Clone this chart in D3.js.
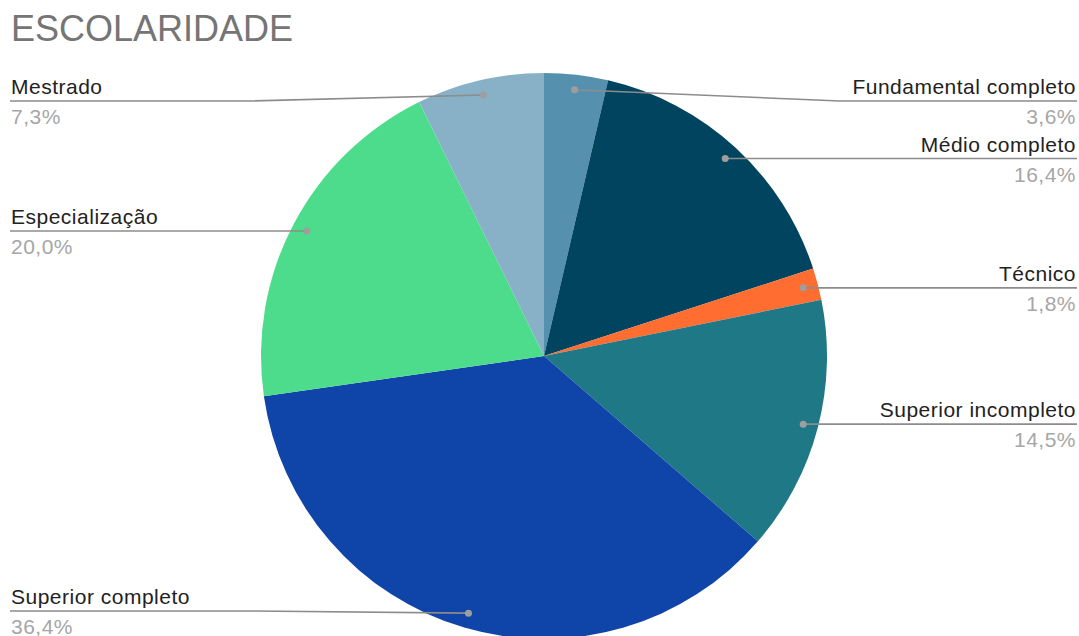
<!doctype html>
<html lang="pt">
<head>
    <meta charset="UTF-8">
    <title>Escolaridade</title>
    <script src="https://cdn.jsdelivr.net/npm/d3@7"></script>
    <style>
        body { margin: 0; background: #ffffff; }
        svg { display: block; font-family: "Liberation Sans", Arial, sans-serif; }
    </style>
</head>
<body>
<div id="chart"></div>
<script>
// categories, counts (n = 55) and the slice colours, clockwise from 12 o'clock
const categories = ["Fundamental completo", "Médio completo", "Técnico", "Superior incompleto",
                    "Superior completo", "Especialização", "Mestrado"];
const counts = [2, 9, 1, 8, 20, 11, 4];
const colors = ["#5591ae", "#00445f", "#ff6d31", "#1f7886", "#0f44a8", "#4cdc8b", "#88b1c8"];

const width = 1079, height = 636;
const cx = 544, cy = 356, radius = 283;

const svg = d3.select("#chart").append("svg")
    .attr("width", width)
    .attr("height", height);

svg.append("text")
    .attr("x", 11)
    .attr("y", 41)
    .attr("fill", "#757575")
    .style("font-size", "36px")
    .text("ESCOLARIDADE");

const total = d3.sum(counts);
const pct = d3.format(".1f");

const data = categories.map((c, i) => ({ name: c, value: counts[i], color: colors[i] }));
const pie = d3.pie().value(d => d.value).sort(null);
const arcs = pie(data);

const arc = d3.arc().innerRadius(0).outerRadius(radius);
const dotArc = d3.arc().innerRadius(radius * 0.947).outerRadius(radius * 0.947);

const g = svg.append("g").attr("transform", `translate(${cx},${cy})`);

g.selectAll("path.slice")
    .data(arcs)
    .join("path")
    .attr("class", "slice")
    .attr("d", arc)
    .attr("fill", d => d.data.color);

// leader lines + labels
const labels = svg.append("g");
arcs.forEach(d => {
    const [dx, dy] = dotArc.centroid(d);
    const px = cx + dx, py = cy + dy;
    const right = (d.startAngle + d.endAngle) / 2 < Math.PI;
    const ly = Math.max(101, Math.min(611, py));
    const edge = right ? 1077 : 10;
    const knee = right ? Math.max(px, 840) : Math.min(px, 250);

    labels.append("path")
        .attr("d", d3.line()([[px, py], [knee, ly], [edge, ly]]))
        .attr("fill", "none")
        .attr("stroke", "#8c8c8c")
        .attr("stroke-width", 1.6);

    labels.append("circle")
        .attr("cx", px)
        .attr("cy", py)
        .attr("r", 3.5)
        .attr("fill", "#9e9e9e");

    const tx = right ? 1076 : 11;
    const anchor = right ? "end" : "start";
    labels.append("text")
        .attr("x", tx)
        .attr("y", ly - 7)
        .attr("text-anchor", anchor)
        .attr("fill", "#222222")
        .style("font-size", "21px")
        .style("letter-spacing", "0.5px")
        .text(d.data.name);
    labels.append("text")
        .attr("x", tx)
        .attr("y", ly + 23)
        .attr("text-anchor", anchor)
        .attr("fill", "#a6a6a6")
        .style("font-size", "21px")
        .style("letter-spacing", "0.5px")
        .text(pct(d.data.value / total * 100).replace(".", ",") + "%");
});
</script>
</body>
</html>
